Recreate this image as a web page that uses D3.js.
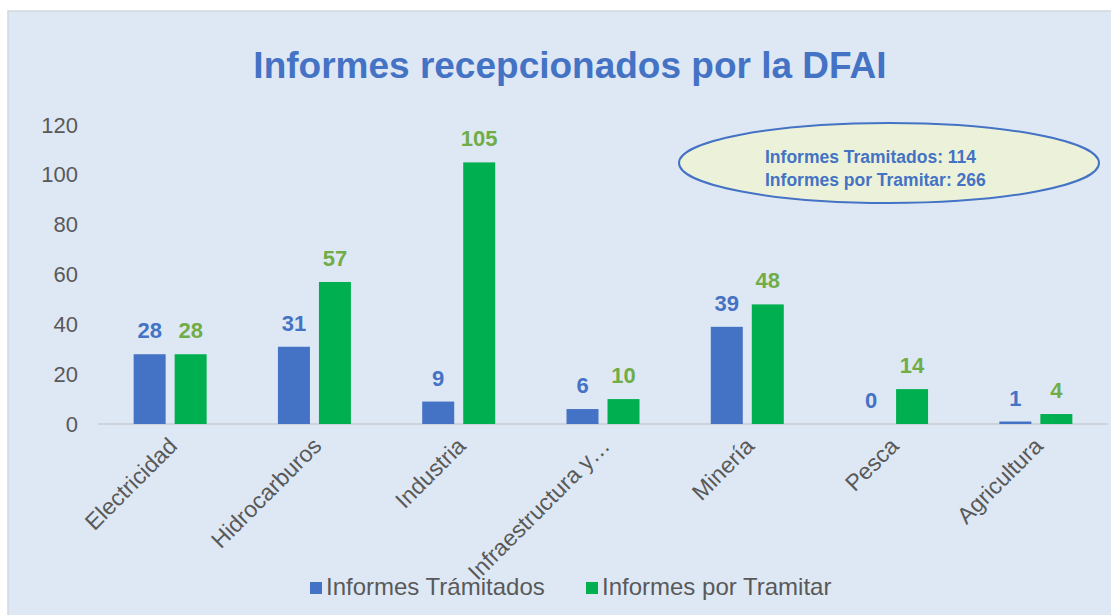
<!DOCTYPE html>
<html>
<head>
<meta charset="utf-8">
<script src="https://cdn.jsdelivr.net/npm/d3@7"></script>
<style>
  body { margin: 0; background: #fff; }
  text { font-family: "Liberation Sans", Arial, sans-serif; }
</style>
</head>
<body>
<div id="chart"></div>
<script>
// Chart data
const categories = ["Electricidad", "Hidrocarburos", "Industria", "Infraestructura y…", "Minería", "Pesca", "Agricultura"];
const tramitados = [28, 31, 9, 6, 39, 0, 1];
const porTramitar = [28, 57, 105, 10, 48, 14, 4];
const yTicks = [0, 20, 40, 60, 80, 100, 120];
const seriesNames = ["Informes Trámitados", "Informes por Tramitar"];
const summaryLines = ["Informes Tramitados: 114", "Informes por Tramitar: 266"];

const W = 1111, H = 615;
const blue = "#4472c4", green = "#00b050", greenLabel = "#70ad47", grey = "#595959";

const svg = d3.select("#chart").append("svg")
  .attr("width", W).attr("height", H);

// panel background with faint border
svg.append("rect")
  .attr("x", 8).attr("y", 11)
  .attr("width", W - 7).attr("height", H - 10)
  .attr("fill", "#dee8f4")
  .attr("stroke", "#d3d8de").attr("stroke-width", 1.5);

// title
svg.append("text")
  .attr("x", 570).attr("y", 78)
  .attr("text-anchor", "middle")
  .style("font-size", "37px").style("font-weight", "bold")
  .attr("fill", blue)
  .text("Informes recepcionados por la DFAI");

// scales
let x = d3.scaleBand().domain(categories).range([98, 1108]);
let y = d3.scaleLinear().domain([0, 120]).range([424, 125]);
const barW = 32, gap = 9;

// y axis labels
let yAxis = d3.axisLeft(y).tickValues(yTicks).tickSize(0).tickPadding(0);
let gy = svg.append("g").attr("transform", "translate(78,0)").call(yAxis);
gy.select(".domain").remove();
gy.selectAll("text")
  .style("font-size", "22px").attr("fill", grey)
  .attr("font-family", "Liberation Sans, Arial, sans-serif");

// baseline
svg.append("line")
  .attr("x1", 98).attr("x2", 1108)
  .attr("y1", y(0)).attr("y2", y(0))
  .attr("stroke", "#c8cdd3").attr("stroke-width", 1.5);

// bars
let groups = svg.selectAll(".cat").data(categories).enter()
  .append("g").attr("class", "cat");

groups.append("rect")
  .attr("x", d => x(d) + x.bandwidth() / 2 - gap / 2 - barW)
  .attr("y", (d, i) => y(tramitados[i]))
  .attr("width", barW)
  .attr("height", (d, i) => Math.max(y(0) - y(tramitados[i]), 0))
  .attr("fill", blue);

groups.append("rect")
  .attr("x", d => x(d) + x.bandwidth() / 2 + gap / 2)
  .attr("y", (d, i) => y(porTramitar[i]))
  .attr("width", barW)
  .attr("height", (d, i) => y(0) - y(porTramitar[i]))
  .attr("fill", green);

// value labels
groups.append("text")
  .attr("x", d => x(d) + x.bandwidth() / 2 - gap / 2 - barW / 2)
  .attr("y", (d, i) => y(tramitados[i]) - 16)
  .attr("text-anchor", "middle")
  .style("font-size", "22px").style("font-weight", "bold")
  .attr("fill", blue)
  .text((d, i) => tramitados[i]);

groups.append("text")
  .attr("x", d => x(d) + x.bandwidth() / 2 + gap / 2 + barW / 2)
  .attr("y", (d, i) => y(porTramitar[i]) - 16)
  .attr("text-anchor", "middle")
  .style("font-size", "22px").style("font-weight", "bold")
  .attr("fill", greenLabel)
  .text((d, i) => porTramitar[i]);

// category labels
groups.append("text")
  .attr("transform", d => "translate(" + (x(d) + x.bandwidth() / 2 - 3) + ",436) rotate(-45)")
  .attr("text-anchor", "end")
  .attr("dy", "0.7em")
  .style("font-size", "23px")
  .attr("fill", grey)
  .text(d => d);

// summary ellipse
svg.append("ellipse")
  .attr("cx", 889).attr("cy", 163)
  .attr("rx", 210).attr("ry", 40)
  .attr("fill", "#ecf2d9")
  .attr("stroke", blue).attr("stroke-width", 2);

svg.selectAll(".summary").data(summaryLines).enter()
  .append("text")
  .attr("class", "summary")
  .attr("x", 765)
  .attr("y", (d, i) => 163 + i * 23)
  .style("font-size", "17.5px").style("font-weight", "bold")
  .attr("fill", blue)
  .text(d => d);

// legend
const legendX = [310, 586];
let legend = svg.selectAll(".legend").data(seriesNames).enter()
  .append("g").attr("class", "legend")
  .attr("transform", (d, i) => "translate(" + legendX[i] + ",595)");

legend.append("rect")
  .attr("x", 0).attr("y", -13)
  .attr("width", 12).attr("height", 12)
  .attr("fill", (d, i) => i === 0 ? blue : green);

legend.append("text")
  .attr("x", 16).attr("y", 0)
  .style("font-size", "24px")
  .attr("fill", grey)
  .text(d => d);
</script>
</body>
</html>
